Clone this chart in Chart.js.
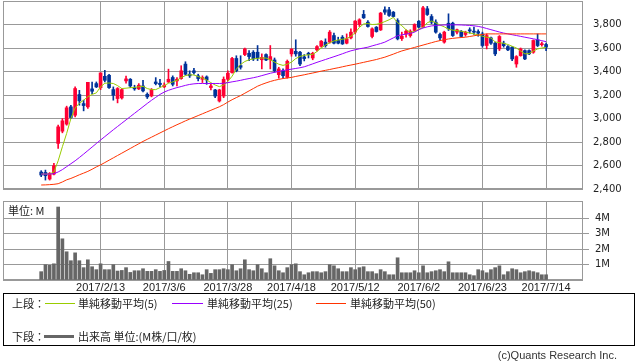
<!DOCTYPE html>
<html>
<head>
<meta charset="utf-8">
<script src="https://cdn.jsdelivr.net/npm/chart.js@4"></script>
<style>
body{margin:0;background:#fff;width:638px;height:362px;position:relative;overflow:hidden;font-family:"Noto Sans CJK JP",sans-serif;color:#222;}
canvas{position:absolute;left:0;}
#priceChart{top:0;}
#volChart{top:195px;}
.t{position:absolute;font-size:11px;line-height:14px;white-space:nowrap;}
.sw{position:absolute;height:1px;}
#legend{position:absolute;left:3px;top:293px;width:630px;height:51px;border:1px solid #000;}
.copy{position:absolute;right:21px;top:349px;font-size:11px;color:#333;font-family:"Liberation Sans",sans-serif;}
</style>
</head>
<body>
<canvas id="priceChart" width="638" height="196"></canvas>
<canvas id="volChart" width="638" height="99"></canvas>
<div class="t" style="left:8px;top:203px;">単位: M</div>
<div id="legend"></div>
<div class="t" style="left:12px;top:296px;">上段：</div>
<div class="sw" style="left:45px;top:303px;width:30px;background:#99cc00;"></div>
<div class="t" style="left:78px;top:296px;">単純移動平均(5)</div>
<div class="sw" style="left:172px;top:303px;width:31px;background:#9900ff;"></div>
<div class="t" style="left:207px;top:296px;">単純移動平均(25)</div>
<div class="sw" style="left:316px;top:303px;width:30px;background:#ff3300;"></div>
<div class="t" style="left:350px;top:296px;">単純移動平均(50)</div>
<div class="t" style="left:12px;top:329px;">下段：</div>
<div class="sw" style="left:44px;top:335px;width:30px;height:3px;background:#666;"></div>
<div class="t" style="left:78px;top:329px;">出来高 単位:(M株/口/枚)</div>
<div class="copy">(c)Quants Research Inc.</div>
<script>
const dates = ['2017/2/13','2017/3/6','2017/3/28','2017/4/18','2017/5/12','2017/6/2','2017/6/23','2017/7/14'];
const dateIdx = [14,29,44,59,74,89,104,119];
const priceTicks = [2400,2600,2800,3000,3200,3400,3600,3800];
const volTicks = [1,2,3,4];

const open = [2544,2541,2485,2527,2788,2892,2952,3099,3028,3204,
3127,3099,3252,3297,3263,3359,3368,3246,3170,3175,
3320,3334,3263,3252,3277,3206,3192,3311,3300,3269,
3311,3349,3320,3340,3463,3377,3406,3363,3334,3354,
3263,3243,3149,3191,3334,3391,3511,3450,3544,3555,
3564,3564,3500,3544,3500,3498,3373,3407,3350,3550,
3572,3564,3524,3555,3515,3584,3615,3650,3650,3706,
3664,3692,3641,3686,3735,3800,3886,3820,3698,3777,
3754,3925,3925,3905,3834,3680,3720,3706,3749,3828,
3777,3934,3868,3820,3715,3650,3811,3811,3735,3743,
3715,3755,3740,3740,3720,3621,3686,3641,3592,3641,
3612,3607,3464,3535,3578,3578,3564,3669,3628,3630];
const high = [2556,2561,2540,2618,2943,3000,3105,3113,3269,3240,
3156,3308,3311,3311,3388,3410,3376,3269,3263,3255,
3360,3340,3283,3297,3325,3218,3255,3348,3334,3303,
3420,3363,3349,3449,3483,3406,3426,3377,3363,3363,
3291,3249,3249,3354,3406,3520,3534,3534,3600,3578,
3578,3621,3550,3550,3621,3515,3436,3422,3498,3595,
3670,3572,3544,3564,3564,3620,3664,3678,3749,3726,
3692,3706,3720,3763,3834,3849,3920,3834,3772,3783,
3903,3951,3946,3911,3849,3735,3755,3755,3806,3834,
3954,3954,3885,3840,3726,3743,3891,3820,3760,3749,
3743,3772,3777,3755,3735,3720,3692,3650,3706,3658,
3620,3612,3535,3600,3584,3584,3669,3720,3650,3641];
const low = [2505,2476,2476,2519,2745,2878,2943,3000,3014,3113,
3065,3085,3212,3263,3246,3311,3255,3156,3133,3165,
3300,3263,3240,3246,3226,3170,3184,3286,3269,3263,
3306,3277,3277,3334,3369,3349,3377,3320,3306,3291,
3243,3177,3140,3177,3320,3386,3397,3420,3535,3493,
3493,3493,3422,3493,3422,3393,3343,3343,3343,3530,
3530,3450,3490,3515,3500,3572,3607,3607,3641,3635,
3635,3630,3635,3678,3720,3783,3851,3777,3686,3735,
3749,3886,3868,3863,3669,3664,3692,3692,3743,3772,
3772,3877,3806,3726,3664,3641,3749,3698,3720,3692,
3700,3726,3715,3700,3607,3592,3630,3535,3578,3607,
3578,3493,3436,3530,3500,3544,3555,3612,3615,3578];
const close = [2519,2513,2533,2598,2929,2980,3091,3008,3255,3150,
3110,3308,3232,3269,3388,3325,3263,3198,3255,3246,
3337,3277,3252,3283,3235,3184,3246,3297,3289,3283,
3334,3291,3334,3406,3377,3363,3391,3340,3349,3328,
3277,3191,3243,3334,3386,3511,3406,3436,3592,3527,
3507,3515,3520,3498,3527,3407,3422,3364,3487,3590,
3550,3464,3510,3544,3555,3612,3658,3620,3735,3641,
3641,3635,3678,3735,3829,3840,3857,3783,3763,3740,
3897,3905,3877,3868,3678,3700,3743,3743,3800,3777,
3942,3885,3820,3735,3686,3735,3763,3706,3755,3698,
3735,3745,3735,3726,3621,3706,3641,3550,3698,3620,
3584,3507,3527,3592,3507,3550,3664,3621,3632,3607];

// 出来高 (M)
const volume = [0.54,0.99,0.95,1.05,4.73,2.67,1.83,1.25,1.76,1.25,
0.8,1.31,0.86,0.67,1.05,0.67,0.67,0.99,0.58,0.62,
0.8,0.49,0.6,0.6,0.73,0.56,0.56,0.67,0.56,0.62,
1.2,0.56,0.56,0.73,0.6,0.37,0.47,0.47,0.34,0.67,
0.43,0.67,0.67,0.73,0.67,0.99,0.6,0.73,1.31,0.67,
0.6,0.99,0.73,0.47,1.38,0.92,0.6,0.47,0.8,0.99,
1.05,0.54,0.34,0.47,0.54,0.54,0.47,0.54,0.99,0.92,
0.73,0.54,0.54,0.8,0.67,0.8,0.86,0.54,0.54,0.41,
0.67,0.54,0.34,0.34,1.44,0.47,0.47,0.47,0.6,0.47,
0.92,0.47,0.54,0.6,0.67,0.54,1.18,0.47,0.47,0.47,
0.47,0.34,0.28,0.67,0.6,0.47,0.67,0.8,0.92,0.34,
0.54,0.73,0.67,0.47,0.54,0.6,0.54,0.47,0.34,0.34];

const ma5 = [2527,2527,2527,2545,2640,2760,2873,3000,3090,3130,
3156,3185,3205,3218,3270,3300,3302,3298,3280,3255,
3258,3262,3265,3270,3274,3255,3246,3246,3263,3280,
3300,3311,3325,3348,3365,3372,3370,3357,3345,3328,
3305,3285,3271,3285,3315,3360,3420,3460,3485,3500,
3507,3512,3515,3515,3500,3480,3462,3452,3462,3480,
3510,3528,3538,3542,3546,3570,3600,3625,3645,3660,
3668,3675,3680,3700,3730,3775,3805,3808,3800,3802,
3810,3825,3840,3860,3815,3790,3755,3735,3740,3760,
3775,3815,3830,3815,3795,3780,3760,3752,3747,3743,
3735,3728,3720,3712,3700,3692,3685,3652,3645,3640,
3630,3615,3600,3575,3550,3552,3575,3592,3600,3606];
const ma25 = [2527,2527,2527,2530,2545,2565,2590,2615,2640,2668,
2697,2727,2757,2787,2817,2846,2875,2904,2932,2960,
2988,3016,3044,3072,3100,3128,3155,3180,3205,3225,
3240,3252,3263,3272,3282,3290,3295,3298,3298,3298,
3298,3298,3298,3300,3305,3312,3318,3325,3333,3340,
3347,3355,3365,3375,3385,3393,3400,3408,3414,3420,
3426,3432,3440,3452,3465,3478,3490,3502,3514,3526,
3538,3551,3564,3576,3585,3593,3600,3607,3618,3628,
3638,3650,3668,3686,3705,3712,3718,3724,3735,3755,
3770,3780,3788,3792,3794,3796,3797,3797,3797,3796,
3794,3792,3789,3784,3776,3766,3756,3746,3736,3727,
3720,3713,3706,3699,3692,3685,3678,3671,3662,3654];
const ma50 = [2434,2435,2437,2440,2445,2460,2478,2490,2505,2521,
2535,2550,2568,2588,2605,2625,2645,2665,2685,2705,
2725,2745,2765,2785,2805,2823,2841,2859,2877,2895,
2913,2930,2947,2963,2980,2995,3010,3025,3040,3055,
3070,3085,3100,3118,3140,3160,3178,3195,3215,3235,
3255,3275,3290,3303,3315,3325,3333,3340,3345,3350,
3358,3365,3372,3380,3387,3395,3403,3410,3417,3425,
3432,3440,3448,3455,3462,3470,3478,3486,3494,3502,
3512,3522,3535,3548,3562,3575,3585,3595,3605,3615,
3625,3635,3645,3655,3663,3670,3677,3682,3686,3689,
3692,3698,3704,3710,3715,3720,3720,3720,3720,3720,
3720,3720,3720,3720,3720,3720,3720,3720,3720,3720];

const UP = '#ff0033', DOWN = '#003399', GRID = '#999';
const candleColor = open.map((o, i) => close[i] >= o ? UP : DOWN);
const xMin = -9, xMax = 127.7;

// 枠線
const frame = {
  id: 'frame',
  beforeDatasetsDraw(chart) {
    const a = chart.chartArea, ctx = chart.ctx;
    ctx.save();
    ctx.strokeStyle = GRID;
    ctx.lineWidth = 1;
    ctx.strokeRect(Math.round(a.left) + 0.5, Math.round(a.top) + 0.5,
      Math.round(a.right - a.left) - 1, Math.round(a.bottom - a.top) - 1);
    ctx.restore();
  }
};

function xScale(showLabels){
  return {
    type: 'linear', min: xMin, max: xMax, offset: false,
    afterBuildTicks: s => { s.ticks = dateIdx.map(v => ({value: v})); },
    afterFit: s => { s.height = showLabels ? 14 : 0; s.paddingLeft = 0; s.paddingRight = 0; },
    ticks: {display: showLabels, autoSkip: false, maxRotation: 0, padding: 1,
      font: {family: 'Liberation Sans', size: 11}, color: '#222',
      callback: v => dates[dateIdx.indexOf(v)]},
    grid: {color: GRID, drawTicks: false, offset: false},
    border: {display: false}
  };
}

function yFit(s){ s.width = 55; s.paddingTop = 0; s.paddingBottom = 0; }

const series = (arr, color) => ({
  type: 'line', data: arr.map((v, i) => ({x: i, y: v})),
  borderColor: color, borderWidth: 1, pointRadius: 0, tension: 0, order: 1
});

new Chart(document.getElementById('priceChart'), {
  type: 'bar',
  data: {
    datasets: [
      {data: low.map((l, i) => ({x: i, y: [l, high[i]]})), backgroundColor: candleColor,
        barThickness: 1, grouped: false, order: 3},
      {data: open.map((o, i) => ({x: i, y: [o, close[i]]})), backgroundColor: candleColor,
        barThickness: 3, minBarLength: 1, grouped: false, order: 2},
      series(ma50, '#ff3300'),
      series(ma25, '#9900ff'),
      series(ma5, '#99cc00')
    ]
  },
  options: {
    responsive: false, animation: false, events: [],
    layout: {padding: {left: 3, top: 1, right: 0, bottom: 7}},
    plugins: {legend: {display: false}, tooltip: {enabled: false}},
    scales: {
      x: xScale(false),
      y: {
        position: 'right', min: 2400, max: 4000,
        afterBuildTicks: s => { s.ticks = priceTicks.map(v => ({value: v})); },
        afterFit: yFit,
        ticks: {padding: 10, font: {family: 'DejaVu Sans', size: 10}, color: '#222',
          callback: v => v.toLocaleString('en-US')},
        grid: {color: GRID, drawTicks: false},
        border: {display: false}
      }
    }
  },
  plugins: [frame]
});

new Chart(document.getElementById('volChart'), {
  type: 'bar',
  data: {
    datasets: [{data: volume.map((v, i) => ({x: i, y: v})), backgroundColor: '#666',
      barThickness: 3, grouped: false}]
  },
  options: {
    responsive: false, animation: false, events: [],
    layout: {padding: {left: 3, top: 6, right: 0, bottom: 0}},
    plugins: {legend: {display: false}, tooltip: {enabled: false}},
    scales: {
      x: xScale(true),
      y: {
        position: 'right', min: 0, max: 5.12,
        afterBuildTicks: s => { s.ticks = [0].concat(volTicks).map(v => ({value: v})); },
        afterFit: yFit,
        ticks: {padding: 6, font: {family: 'DejaVu Sans', size: 10}, color: '#222',
          callback: v => v > 0 ? v + 'M' : ''},
        grid: {color: GRID, tickLength: 6,
          tickColor: c => c.tick && c.tick.value > 0 ? GRID : 'rgba(0,0,0,0)'},
        border: {display: false}
      }
    }
  },
  plugins: [frame]
});
</script>
</body>
</html>
